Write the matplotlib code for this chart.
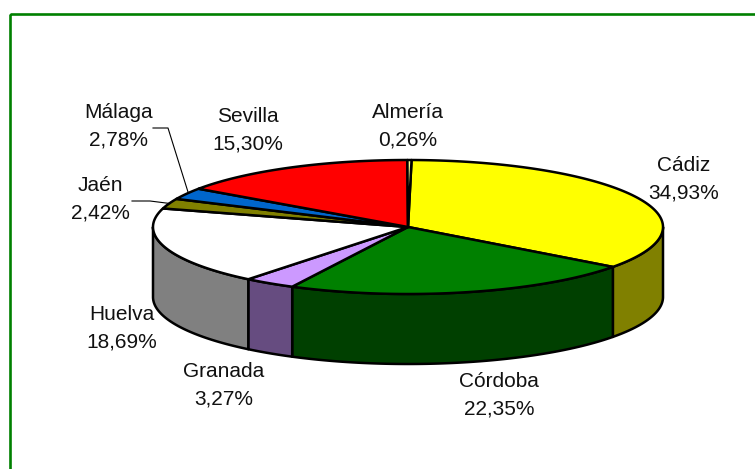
import numpy as np
import matplotlib
matplotlib.use("Agg")
import matplotlib.pyplot as plt
from matplotlib.patches import Polygon, Rectangle

provinces = ["Cádiz", "Córdoba", "Granada", "Huelva", "Jaén", "Málaga", "Sevilla", "Almería"]
shares = [34.93, 22.35, 3.27, 18.69, 2.42, 2.78, 15.30, 0.26]
share_labels = ["34,93%", "22,35%", "3,27%", "18,69%", "2,42%", "2,78%", "15,30%", "0,26%"]
top_colors = ["#FFFF00", "#008000", "#CC99FF", "#FFFFFF", "#808000", "#0066CC", "#FF0000", "#FFFF99"]
side_colors = ["#808000", "#004000", "#664C80", "#808080", "#404000", "#003366", "#800000", "#80804C"]
label_xy = [(684, 179.5), (499, 395.5), (224, 385.5), (122, 328.5),
            (100.5, 199.5), (119, 126.5), (248, 130.5), (408, 126)]

plt.rcParams["font.family"] = ["Liberation Sans", "DejaVu Sans"]
fig = plt.figure(figsize=(7.55, 4.69), dpi=100, facecolor="white")
ax = fig.add_axes([0, 0, 1, 1])
ax.set_xlim(0, 755)
ax.set_ylim(469, 0)
ax.axis("off")

cx, cy, rx, ry, depth = 408, 227, 255, 67, 70
start = 0.8


def rim(a0, a1):
    t = np.radians(np.linspace(a0, a1, max(int(abs(a1 - a0) * 2), 2)))
    return np.column_stack([cx + rx * np.sin(t), cy - ry * np.cos(t)])


ax.add_patch(Rectangle((9.5, 14.5), 790, 500, fill=False, ec="#008000", lw=1.9, zorder=1))

edges = start + np.concatenate([[0], np.cumsum(shares)]) * 3.6
# side walls: only the front half (90 to 270 degrees clockwise from the top)
for i in range(len(shares)):
    a0, a1 = max(edges[i], 90), min(edges[i + 1], 270)
    if a1 > a0:
        upper = rim(a0, a1)
        lower = upper[::-1] + [0, depth]
        ax.add_patch(Polygon(np.vstack([upper, lower]), closed=True, fc=side_colors[i],
                             ec="black", lw=1.8, joinstyle="round", zorder=2))
# top faces
for i in range(len(shares)):
    pts = np.vstack([[cx, cy], rim(edges[i], edges[i + 1])])
    ax.add_patch(Polygon(pts, closed=True, fc=top_colors[i], ec="black", lw=1.8,
                         joinstyle="round", zorder=3))

for name, val, (x, y) in zip(provinces, share_labels, label_xy):
    ax.text(x, y, f"{name}\n{val}", ha="center", va="center", fontsize=15,
            linespacing=1.56, color="#111111", zorder=5)

# leader lines of the two small slices
ax.plot([153, 168, 188], [128, 128, 192], color="black", lw=0.8, zorder=4)
ax.plot([132, 150, 170], [201, 201, 203.5], color="black", lw=0.8, zorder=4)

fig.savefig("out.png", dpi=100, facecolor="white")
